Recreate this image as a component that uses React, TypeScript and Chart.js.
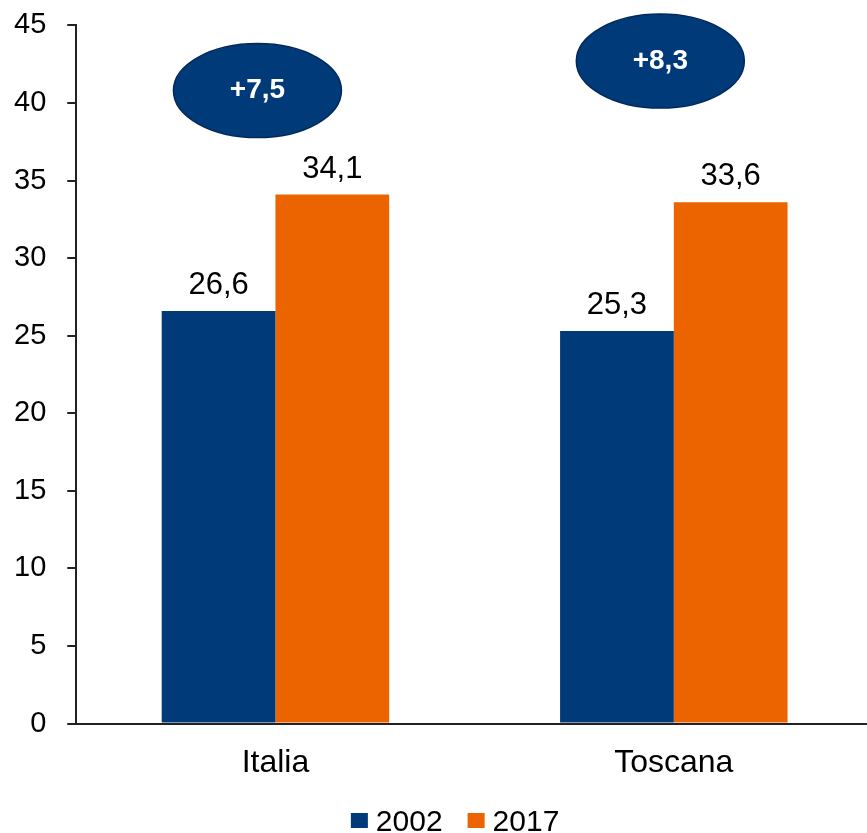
import React, { useEffect, useRef } from "react";
import { Chart, registerables } from "chart.js";

Chart.register(...registerables);

const categories = ["Italia", "Toscana"];
const seriesLabels = ["2002", "2017"];
const values2002 = [26.6, 25.3];
const values2017 = [34.1, 33.6];
const deltaLabels = ["+7,5", "+8,3"];
const deltaLevels = [40.8, 42.7];
const deltaShift = [-18, -13.5];

const NAVY = "#003A78";
const ORANGE = "#EB6400";
const FONT = "'Liberation Sans', Arial, sans-serif";

const SHIFT_X = 20;
const SHIFT_Y = 13;

const fmt = (v: number) => v.toFixed(1).replace(".", ",");

const overlayPlugin = {
  id: "overlay",
  afterDatasetsDraw(chart: any) {
    const ctx = chart.ctx;
    const xs = chart.scales.x;
    const ys = chart.scales.y;
    ctx.save();
    // value labels
    ctx.font = `31px ${FONT}`;
    ctx.fillStyle = "#000";
    ctx.textAlign = "center";
    ctx.textBaseline = "alphabetic";
    chart.data.datasets.forEach((ds: any, di: number) => {
      const meta = chart.getDatasetMeta(di);
      meta.data.forEach((bar: any, i: number) => {
        ctx.fillText(fmt(ds.data[i]), bar.x, bar.y - 17);
      });
    });
    // ellipses
    deltaLabels.forEach((lab, i) => {
      const cx = xs.getPixelForValue(i) + deltaShift[i];
      const cy = ys.getPixelForValue(deltaLevels[i]);
      ctx.beginPath();
      ctx.ellipse(cx, cy, 84, 47, 0, 0, Math.PI * 2);
      ctx.fillStyle = NAVY;
      ctx.fill();
      ctx.lineWidth = 1.5;
      ctx.strokeStyle = "#00285a";
      ctx.stroke();
      ctx.fillStyle = "#fff";
      ctx.font = `bold 28px ${FONT}`;
      ctx.textBaseline = "middle";
      ctx.fillText(lab, cx, cy);
    });
    // legend
    const colors = [NAVY, ORANGE];
    ctx.font = `30px ${FONT}`;
    ctx.textAlign = "left";
    ctx.textBaseline = "alphabetic";
    const boxW = 17, boxH = 15, gap = 8, itemGap = 25;
    const widths = seriesLabels.map((s) => ctx.measureText(s).width);
    const total = widths.reduce((a, w) => a + boxW + gap + w, 0) + itemGap * (seriesLabels.length - 1);
    const centerX = chart.chartArea.left + chart.chartArea.width * 0.4755;
    let x = centerX - total / 2;
    const baseY = chart.height - 2;
    seriesLabels.forEach((s, i) => {
      ctx.fillStyle = colors[i];
      ctx.fillRect(x, baseY - 18, boxW, boxH);
      x += boxW + gap;
      ctx.fillStyle = "#000";
      ctx.fillText(s, x, baseY);
      x += widths[i] + itemGap;
    });
    ctx.restore();
  },
};

export default function App() {
  const ref = useRef<HTMLCanvasElement>(null);
  useEffect(() => {
    if (!ref.current) return;
    const chart = new Chart(ref.current, {
      type: "bar",
      data: {
        labels: categories,
        datasets: [
          { label: seriesLabels[0], data: values2002, backgroundColor: NAVY, borderWidth: 0 },
          { label: seriesLabels[1], data: values2017, backgroundColor: ORANGE, borderWidth: 0 },
        ],
      },
      options: {
        responsive: false,
        animation: false,
        devicePixelRatio: 1,
        layout: { padding: { left: 13, top: 7, right: 0, bottom: 31 } },
        datasets: { bar: { barPercentage: 1, categoryPercentage: 0.571 } },
        plugins: {
          legend: { display: false },
          tooltip: { enabled: false },
        },
        scales: {
          x: {
            grid: { display: false, drawTicks: false },
            border: { display: true, color: "#222", width: 2 },
            ticks: { color: "#000", font: { family: FONT, size: 32 }, padding: 20 },
          },
          y: {
            min: 0,
            max: 45,
            grid: { display: true, drawOnChartArea: false, drawTicks: true, tickLength: 9, color: "#222", lineWidth: 2 },
            border: { display: true, color: "#222", width: 2 },
            ticks: { stepSize: 5, color: "#000", font: { family: FONT, size: 29 }, padding: 21 },
          },
        },
      },
      plugins: [overlayPlugin],
    });
    return () => chart.destroy();
  }, []);
  return (
    <div style={{ position: "absolute", left: 0, top: 0, width: 867, height: 833, overflow: "hidden", background: "#fff" }}>
      <canvas
        ref={ref}
        width={873 + SHIFT_X}
        height={833 + SHIFT_Y}
        style={{ display: "block", marginLeft: -SHIFT_X, marginTop: -SHIFT_Y }}
      />
    </div>
  );
}
